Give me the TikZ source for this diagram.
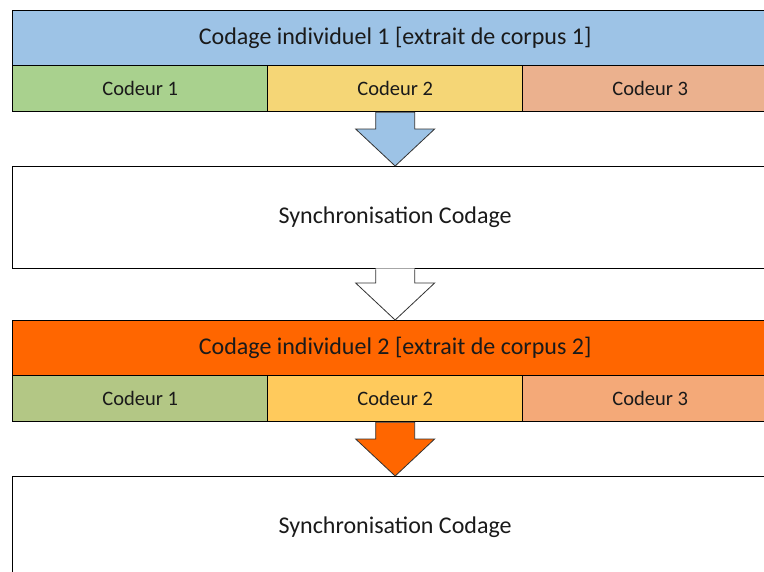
\documentclass[tikz,border=0pt]{standalone}
\usepackage{fontspec}
\setmainfont{Carlito}
\usetikzlibrary{calc}
\definecolor{hblue}{HTML}{9DC3E6}
\definecolor{cgreenA}{HTML}{A9D18E}
\definecolor{cyellowA}{HTML}{F5D676}
\definecolor{cpeachA}{HTML}{EBB18E}
\definecolor{horange}{HTML}{FF6600}
\definecolor{cgreenB}{HTML}{B3C785}
\definecolor{cyellowB}{HTML}{FFCA5C}
\definecolor{cpeachB}{HTML}{F4A978}
\definecolor{txt}{HTML}{1A1A1A}
\tikzset{
  box/.style={draw=black, line width=1.3pt, rectangle, inner sep=0pt, anchor=north west, text=txt},
  titlebox/.style={box, minimum width=765pt, minimum height=55pt, font=\fontsize{24}{28}\selectfont},
  coderbox/.style={box, minimum width=255pt, minimum height=46pt, font=\fontsize{20.5}{24}\selectfont},
  syncbox/.style={box, fill=white, minimum width=765pt, font=\fontsize{24}{28}\selectfont},
  arrowline/.style={draw=black!80, line width=0.8pt, line join=miter},
}
\newcommand\blockarr[3]{%
  \draw[arrowline, fill=#3] let \p1=(#1), \p2=(#2) in
    (\x1-19.5pt,\y1) -- (\x1+19.5pt,\y1) -- (\x1+19.5pt,\y2+37pt) -- (\x1+39.5pt,\y2+37pt)
    -- (\x2,\y2) -- (\x1-39.5pt,\y2+37pt) -- (\x1-19.5pt,\y2+37pt) -- cycle;}
\newcommand\openarr[3]{%
  \fill[#3] let \p1=(#1), \p2=(#2) in
    (\x1-19.5pt,\y1+1pt) -- (\x1+19.5pt,\y1+1pt) -- (\x1+19.5pt,\y2+37pt) -- (\x1+39.5pt,\y2+37pt)
    -- (\x2,\y2) -- (\x1-39.5pt,\y2+37pt) -- (\x1-19.5pt,\y2+37pt) -- cycle;
  \draw[arrowline] let \p1=(#1), \p2=(#2) in
    (\x1+19.5pt,\y1) -- (\x1+19.5pt,\y2+37pt) -- (\x1+39.5pt,\y2+37pt)
    -- (\x2,\y2) -- (\x1-39.5pt,\y2+37pt) -- (\x1-19.5pt,\y2+37pt) -- (\x1-19.5pt,\y1);}
\begin{document}
\begin{tikzpicture}[x=1pt,y=-1pt]
\useasboundingbox (0,0) rectangle (764,571);
\clip (0,0) rectangle (764,571);
% first block
\node[titlebox, fill=hblue] (t1) at (12,10) {Codage individuel 1 [extrait de corpus 1]};
\node[coderbox, fill=cgreenA] (c11) at (12,65) {Codeur 1};
\node[coderbox, fill=cyellowA] (c12) at (267,65) {Codeur 2};
\node[coderbox, fill=cpeachA] (c13) at (522,65) {Codeur 3};
\node[syncbox, minimum height=102pt, yshift=-1pt] (s1) at (12,165) {Synchronisation Codage};
% second block
\node[titlebox, fill=horange] (t2) at (12,320) {Codage individuel 2 [extrait de corpus 2]};
\node[coderbox, fill=cgreenB] (c21) at (12,375) {Codeur 1};
\node[coderbox, fill=cyellowB] (c22) at (267,375) {Codeur 2};
\node[coderbox, fill=cpeachB] (c23) at (522,375) {Codeur 3};
\node[syncbox, minimum height=102pt, yshift=-2pt] (s2) at (12,474) {Synchronisation Codage};
% arrows
\blockarr{c12.south}{s1.north}{hblue}
\openarr{s1.south}{t2.north}{white}
\blockarr{c22.south}{s2.north}{horange}
\end{tikzpicture}
\end{document}
